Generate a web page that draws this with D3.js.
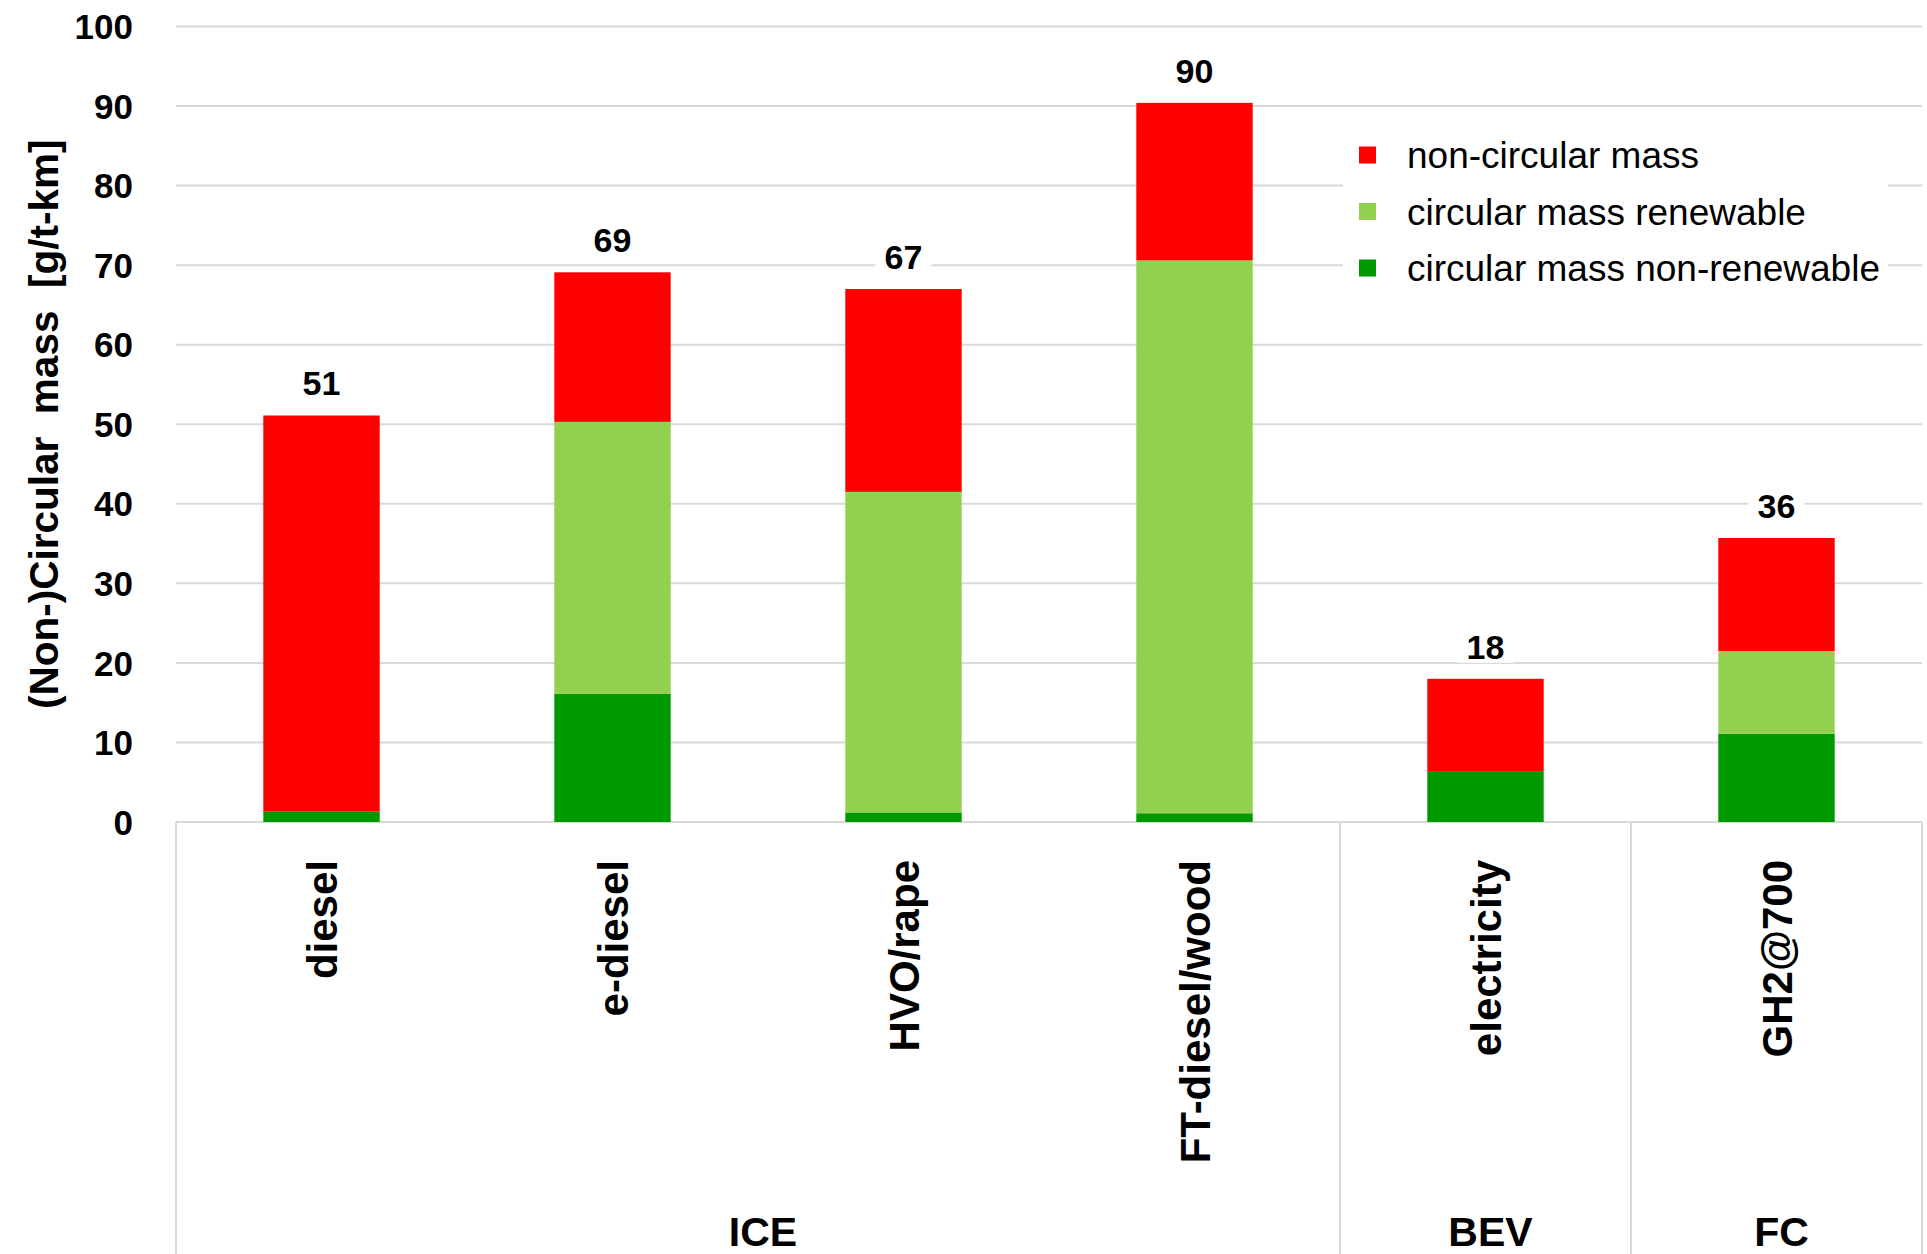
<!DOCTYPE html>
<html>
<head>
<meta charset="utf-8">
<script src="https://cdn.jsdelivr.net/npm/d3@7"></script>
<style>
  html, body { margin: 0; padding: 0; background: #fff; }
  svg { display: block; font-family: Arial, "Liberation Sans", sans-serif; }
</style>
</head>
<body>
<svg id="chart" width="1927" height="1254"></svg>
<script>
// Powertrain / fuel pathways
const categories = ["diesel", "e-diesel", "HVO/rape", "FT-diesel/wood", "electricity", "GH2@700"];

// Mass per tonne-kilometre, split by circularity [g/t-km]
const circularNonRenewable = [1.3, 16.1, 1.2, 1.1, 6.4, 11.1];
const circularRenewable    = [0.0, 34.2, 40.3, 69.5, 0.0, 10.4];
const nonCircular          = [49.8, 18.8, 25.5, 19.8, 11.6, 14.2];

// Totals printed above the stacks
const totalLabels = [51, 69, 67, 90, 18, 36];

// Drivetrain groups below the category labels
const groupNames = ["ICE", "BEV", "FC"];
const groupMembers = [
  ["diesel", "e-diesel", "HVO/rape", "FT-diesel/wood"],
  ["electricity"],
  ["GH2@700"]
];

const yTicks = [0, 10, 20, 30, 40, 50, 60, 70, 80, 90, 100];
const yTitle = "(Non-)Circular  mass  [g/t-km]";

const seriesKeys = ["nonRenewable", "renewable", "nonCircular"];
const seriesNames = {
  nonCircular: "non-circular mass",
  renewable: "circular mass renewable",
  nonRenewable: "circular mass non-renewable"
};
const seriesColors = {
  nonRenewable: "#009900",
  renewable: "#92d050",
  nonCircular: "#ff0000"
};

const rows = categories.map((c, i) => ({
  category: c,
  nonRenewable: circularNonRenewable[i],
  renewable: circularRenewable[i],
  nonCircular: nonCircular[i],
  label: totalLabels[i]
}));

const svg = d3.select("#chart");
const plotLeft = 176, plotRight = 1922, plotTop = 26.5, plotBottom = 822, pageBottom = 1254;
const gridColor = "#d9d9d9";

const x = d3.scaleBand().domain(categories).range([plotLeft, plotRight]).paddingInner(0.6).paddingOuter(0.3);
const y = d3.scaleLinear().domain([0, 100]).range([plotBottom, plotTop]);

// Horizontal gridlines
svg.append("g")
  .selectAll("line")
  .data(yTicks)
  .join("line")
  .attr("x1", plotLeft).attr("x2", plotRight)
  .attr("y1", d => y(d)).attr("y2", d => y(d))
  .attr("stroke", gridColor).attr("stroke-width", 2);

// Y axis tick labels
svg.append("g")
  .selectAll("text")
  .data(yTicks)
  .join("text")
  .attr("x", 133)
  .attr("y", d => y(d))
  .attr("dy", "0.36em")
  .attr("text-anchor", "end")
  .attr("font-size", 35)
  .attr("font-weight", "bold")
  .attr("fill", "#000")
  .text(d => d);

// Y axis title
svg.append("text")
  .attr("transform", `translate(43, ${(plotTop + plotBottom) / 2}) rotate(-90)`)
  .attr("text-anchor", "middle")
  .attr("dy", "0.36em")
  .attr("font-size", 40.5)
  .attr("font-weight", "bold")
  .style("white-space", "pre")
  .text(yTitle);

// Category axis: separators between drivetrain groups
const step = x.step();
const half = (step - x.bandwidth()) / 2;
const groupBounds = groupMembers.map(m => ({
  x0: x(m[0]) - half,
  x1: x(m[m.length - 1]) + x.bandwidth() + half
}));
const sepX = [groupBounds[0].x0].concat(groupBounds.map(g => g.x1));
svg.append("g")
  .selectAll("line")
  .data(sepX)
  .join("line")
  .attr("x1", d => d).attr("x2", d => d)
  .attr("y1", plotBottom).attr("y2", pageBottom)
  .attr("stroke", gridColor).attr("stroke-width", 2);

// Stacked bars
const stacked = d3.stack().keys(seriesKeys)(rows);
svg.append("g")
  .selectAll("g")
  .data(stacked)
  .join("g")
  .attr("fill", d => seriesColors[d.key])
  .selectAll("rect")
  .data(d => d)
  .join("rect")
  .attr("x", d => x(d.data.category))
  .attr("width", x.bandwidth())
  .attr("y", d => y(d[1]))
  .attr("height", d => y(d[0]) - y(d[1]));

// Total labels on white boxes
const labelG = svg.append("g")
  .selectAll("g")
  .data(rows)
  .join("g")
  .attr("transform", d => {
    const tot = d.nonRenewable + d.renewable + d.nonCircular;
    return `translate(${x(d.category) + x.bandwidth() / 2}, ${y(tot) - 20})`;
  });
labelG.append("rect")
  .attr("x", -28).attr("width", 56)
  .attr("y", -30).attr("height", 34)
  .attr("fill", "#fff");
labelG.append("text")
  .attr("text-anchor", "middle")
  .attr("font-size", 34)
  .attr("font-weight", "bold")
  .text(d => d.label);

// Category labels (rotated)
svg.append("g")
  .selectAll("text")
  .data(categories)
  .join("text")
  .attr("transform", d => `translate(${x(d) + x.bandwidth() / 2}, 860) rotate(-90)`)
  .attr("text-anchor", "end")
  .attr("dy", "0.36em")
  .attr("font-size", 42)
  .attr("font-weight", "bold")
  .text(d => d);

// Group labels
svg.append("g")
  .selectAll("text")
  .data(groupNames)
  .join("text")
  .attr("x", (d, i) => (groupBounds[i].x0 + groupBounds[i].x1) / 2 + 5)
  .attr("y", 1246)
  .attr("text-anchor", "middle")
  .attr("font-size", 41)
  .attr("font-weight", "bold")
  .text(d => d);

// Legend
const legendOrder = ["nonCircular", "renewable", "nonRenewable"];
const legend = svg.append("g");
legend.append("rect")
  .attr("x", 1343).attr("y", 118)
  .attr("width", 545).attr("height", 184)
  .attr("fill", "#fff");
const item = legend.selectAll("g")
  .data(legendOrder)
  .join("g")
  .attr("transform", (d, i) => `translate(1359, ${155 + i * 56.5})`);
item.append("rect")
  .attr("x", 0).attr("y", -8.5)
  .attr("width", 17).attr("height", 17)
  .attr("fill", d => seriesColors[d]);
item.append("text")
  .attr("x", 48)
  .attr("dy", "0.36em")
  .attr("font-size", 37)
  .text(d => seriesNames[d]);
</script>
</body>
</html>
